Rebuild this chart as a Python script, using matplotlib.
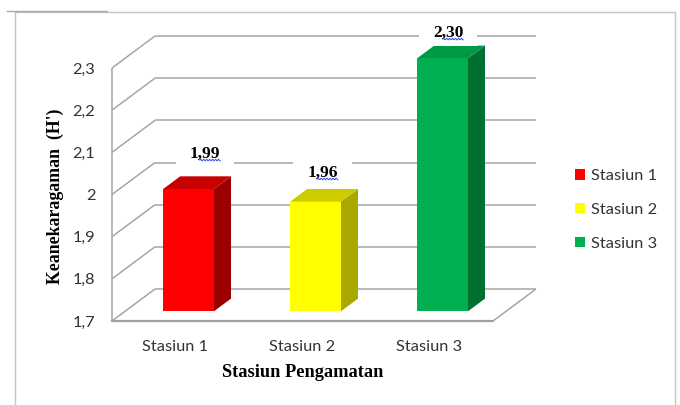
import numpy as np
import matplotlib
matplotlib.use("Agg")
import matplotlib.pyplot as plt
from matplotlib.patches import Polygon, Patch, Rectangle
from matplotlib.lines import Line2D

# ---- data ----
stations = ["Stasiun 1", "Stasiun 2", "Stasiun 3"]
diversity = [1.99, 1.96, 2.30]
y_ticks = [1.7, 1.8, 1.9, 2.0, 2.1, 2.2, 2.3]
x_title = "Stasiun Pengamatan"
y_title = "Keanekaragaman  (H')"

front_colors = ["#FF0000", "#FFFF00", "#00B050"]
top_colors = ["#C80000", "#CCCC00", "#009A46"]
side_colors = ["#9A0000", "#A8A800", "#007030"]

# hand-placed offsets (points) of the value labels from the top of each bar
label_nudge = [(-0.4, 16.0), (-7.2, 11.5), (-8.3, 9.0)]

W, H = 680, 405
fig = plt.figure(figsize=(W / 100, H / 100), dpi=100)
fig.patch.set_facecolor("white")

# front plane of the 3-D box
ax = fig.add_axes([112 / W, 84 / H, 381 / W, 253 / H])
ax.set_xlim(0, len(stations))
ax.set_ylim(y_ticks[0], y_ticks[-1])
ax.patch.set_visible(False)
for s in ax.spines.values():
    s.set_visible(False)

# depth offset of the back wall, in data units
px_x = 381 / len(stations)
px_y = 253 / (y_ticks[-1] - y_ticks[0])
DX = 43 / px_x
DY = 32 / px_y


def at(x, y, d):
    return (x + d * DX, y + d * DY)


grid_kw = dict(color="#A6A6A6", lw=1.1, clip_on=False, zorder=1, solid_capstyle="butt")
base = y_ticks[0]
n = len(stations)

# back wall gridlines and left wall diagonals
for v in y_ticks:
    ax.plot([at(0, v, 1)[0], at(n, v, 1)[0]], [v + DY, v + DY], **grid_kw)
    ax.plot([0, DX], [v, v + DY], **grid_kw)
# left wall front edge
ax.plot([0, 0], [y_ticks[0], y_ticks[-1]], **grid_kw)
# floor outline
ax.plot([0, n], [base, base], color="#A0A0A0", lw=1.6, clip_on=False, zorder=1)
ax.plot([n, n + DX], [base, base + DY], **grid_kw)

# 3-D bars
half_w = 0.2
d0, d1 = 0.3, 0.7
for i, v in enumerate(diversity):
    x0, x1 = i + 0.5 - half_w, i + 0.5 + half_w
    front = [at(x0, base, d0), at(x1, base, d0), at(x1, v, d0), at(x0, v, d0)]
    side = [at(x1, base, d0), at(x1, base, d1), at(x1, v, d1), at(x1, v, d0)]
    top = [at(x0, v, d0), at(x1, v, d0), at(x1, v, d1), at(x0, v, d1)]
    ax.add_patch(Polygon(side, closed=True, fc=side_colors[i], ec="none", clip_on=False, zorder=3))
    ax.add_patch(Polygon(top, closed=True, fc=top_colors[i], ec="none", clip_on=False, zorder=3))
    ax.add_patch(Polygon(front, closed=True, fc=front_colors[i], ec="none", clip_on=False, zorder=4))

# value labels
value_texts = []
for i, v in enumerate(diversity):
    lbl = f"{v:.2f}".replace(".", ",")
    t = ax.annotate(lbl, xy=at(i + 0.5, v, d1), xytext=label_nudge[i], textcoords="offset points",
                    ha="center", va="center", fontsize=12.5, fontweight="bold",
                    family="Liberation Serif", color="black", zorder=10,
                    annotation_clip=False)
    value_texts.append(t)

# tick labels
tick_font = dict(family="Lato", size=11.8, color="#333333")
ax.set_yticks(y_ticks)
ax.set_yticklabels([f"{t:g}".replace(".", ",") for t in y_ticks], **tick_font)
ax.set_xticks(np.arange(n) + 0.5)
ax.set_xticklabels(stations, **tick_font)
ax.tick_params(axis="y", length=0, pad=12)
ax.tick_params(axis="x", length=0, pad=13.5)

# axis titles
ax.text(0.5, -0.2055, x_title, transform=ax.transAxes, ha="center", va="center",
        family="Liberation Serif", fontweight="bold", fontsize=13.2, color="black")
ax.text(-0.1496, 0.494, y_title, transform=ax.transAxes, ha="center", va="center",
        rotation=90, family="Liberation Serif", fontweight="bold", fontsize=12.8, color="black")

# legend
handles = [Patch(fc=c, ec="none") for c in front_colors]
fig.legend(handles, stations, loc="center left", bbox_to_anchor=(575 / W, 1 - 210 / H),
           frameon=False, prop=dict(family="Lato", size=11.8), labelcolor="#333333",
           handlelength=0.6, handleheight=0.6, handletextpad=0.35, labelspacing=1.2,
           borderpad=0, borderaxespad=0)

# chart frame
fig.add_artist(Rectangle((15 / W, -0.05), 660 / W, (H - 12) / H + 0.05, fill=False,
                         ec="#C4C4C4", lw=1.0, transform=fig.transFigure))
fig.add_artist(Line2D([7 / W, 107 / W], [1 - 10.5 / H, 1 - 10.5 / H], color="#A8A8A8",
                      lw=1.0, transform=fig.transFigure))

# white label backgrounds and wavy proofing underline beneath the decimals
fig.canvas.draw()
renderer = fig.canvas.get_renderer()
to_data = ax.transData.inverted()
for t in value_texts:
    bb = t.get_window_extent(renderer)
    (bx0, by0), (bx1, by1) = to_data.transform([(bb.x0 - 14, bb.y0 - 5), (bb.x1 + 14, bb.y1 + 5)])
    ax.add_patch(Rectangle((bx0, by0), bx1 - bx0, by1 - by0, fc="white", ec="none",
                           clip_on=False, zorder=9))
    xs = np.linspace(bb.x0 + 0.33 * bb.width, bb.x1, 24)
    ys = bb.y0 + 2.0 + 0.9 * np.sin((xs - xs[0]) / 3.0 * 2 * np.pi)
    pts = to_data.transform(np.column_stack([xs, ys]))
    ax.add_line(Line2D(pts[:, 0], pts[:, 1], color="#2B4BFF", lw=0.7, clip_on=False, zorder=11))

fig.savefig("out.png", dpi=100, facecolor="white")
